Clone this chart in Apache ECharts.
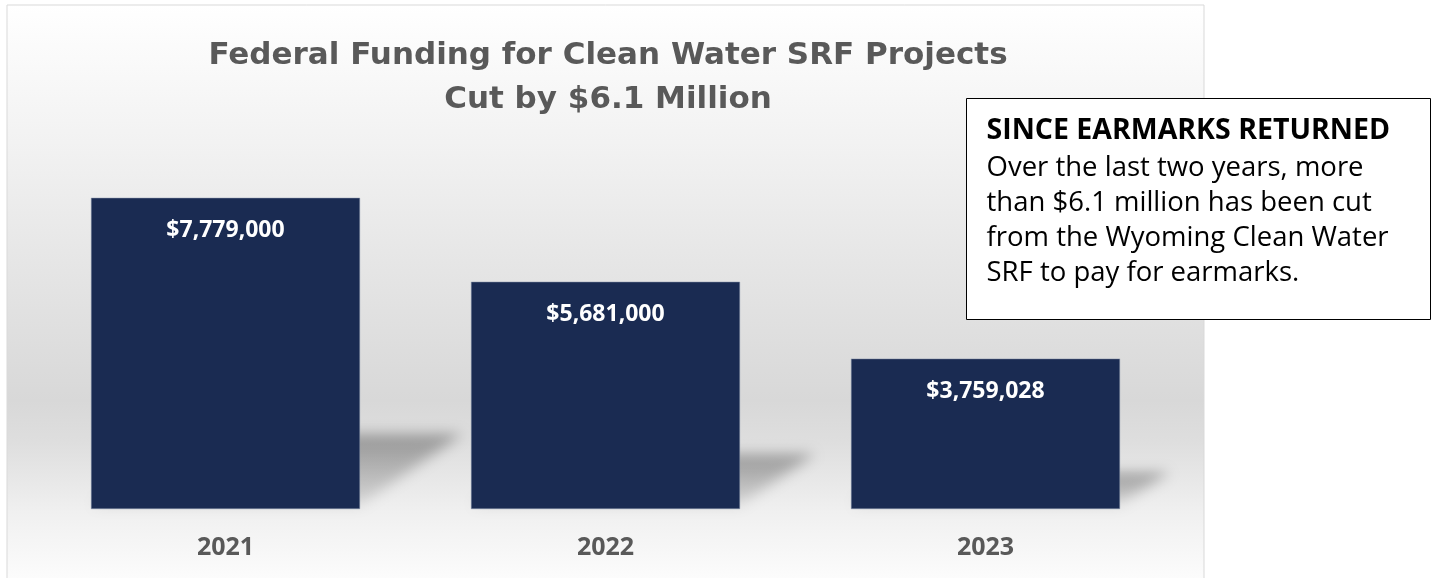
<!DOCTYPE html>
<html>
<head>
<meta charset="utf-8">
<script src="https://cdn.jsdelivr.net/npm/echarts@6/dist/echarts.min.js"></script>
<style>
  html, body { margin: 0; padding: 0; background: #fff; }
  #chart { width: 1434px; height: 578px; }
</style>
</head>
<body>
<div id="chart"></div>
<script>
// data
const years = ['2021', '2022', '2023']
const funding = [7779000, 5681000, 3759028]
const noteTitle = 'SINCE EARMARKS RETURNED'
const noteLines = [
  'Over the last two years, more',
  'than $6.1 million has been cut',
  'from the Wyoming Clean Water',
  'SRF to pay for earmarks.'
]

const navy = '#1a2b52'
const grey = '#595959'
const BAR_W = 269
const SHIFT = 3000 // draw shadow shape off screen, keep only its blur

function fmtMoney(v) {
  return '$' + v.toLocaleString('en-US')
}

// skewed soft shadow behind each bar, sized from the bar itself
function renderShadow(params, api) {
  let base = api.coord([api.value(0), 0])
  let top = api.coord([api.value(0), api.value(1)])
  let h = base[1] - top[1]
  let xl = base[0] - BAR_W / 2 - SHIFT
  let xr = base[0] + BAR_W / 2 - SHIFT
  let yb = base[1]
  let dx = h * 0.33, dy = h * 0.24
  return {
    type: 'polygon',
    shape: {
      points: [[xl, yb - 3], [xr, yb - 3], [xr + dx, yb - dy], [xl + dx, yb - dy]]
    },
    style: {
      fill: {
        type: 'linear', x: 0, y: 0, x2: 0, y2: 1,
        colorStops: [
          { offset: 0, color: 'rgba(0,0,0,1)' },
          { offset: 1, color: 'rgba(0,0,0,0.3)' }
        ]
      },
      shadowBlur: 14,
      shadowOffsetX: SHIFT,
      shadowColor: 'rgba(0,0,0,0.32)'
    }
  }
}

let myChart = echarts.init(document.getElementById('chart'))
let options = {
  animation: false,
  title: {
    text: 'Federal Funding for Clean Water SRF Projects\nCut by $6.1 Million',
    left: 603,
    top: 29,
    textAlign: 'center',
    textStyle: {
      fontFamily: 'DejaVu Sans',
      fontSize: 31,
      fontWeight: 'bold',
      color: grey,
      lineHeight: 44
    }
  },
  graphic: [
    {   // chart area with its wall/floor gradient
      type: 'rect',
      z: -10,
      silent: true,
      shape: { x: 7, y: 5, width: 1197, height: 590 },
      style: {
        stroke: '#d9d9d9',
        lineWidth: 1,
        fill: {
          type: 'linear', x: 0, y: 0, x2: 0, y2: 1,
          colorStops: [
            { offset: 0, color: '#ffffff' },
            { offset: 0.25, color: '#f1f1f1' },
            { offset: 0.67, color: '#d8d8d8' },
            { offset: 0.74, color: '#dedede' },
            { offset: 0.86, color: '#f0f0f0' },
            { offset: 1, color: '#ffffff' }
          ]
        }
      }
    },
    {   // note box
      type: 'group',
      left: 966,
      top: 98,
      z: 100,
      children: [
        {
          type: 'rect',
          shape: { x: 0, y: 0, width: 464, height: 221 },
          style: { fill: '#ffffff', stroke: '#000000', lineWidth: 1 }
        },
        {
          type: 'text',
          left: 20,
          top: 15,
          style: {
            text: noteTitle,
            fontFamily: 'Open Sans',
            fontSize: 28.5,
            fontWeight: 'bold',
            lineHeight: 35,
            fill: '#000'
          }
        },
        {
          type: 'text',
          left: 20,
          top: 52,
          style: {
            text: noteLines.join('\n'),
            fontFamily: 'Open Sans',
            fontSize: 27.5,
            lineHeight: 35,
            fill: '#000'
          }
        }
      ]
    }
  ],
  grid: {
    left: 35.5,
    right: 258.5,
    top: 109,
    bottom: 69
  },
  xAxis: {
    type: 'category',
    data: years,
    axisLine: { show: false },
    axisTick: { show: false },
    axisLabel: {
      margin: 26,
      fontFamily: 'Open Sans',
      fontSize: 25,
      fontWeight: 'bold',
      color: grey
    }
  },
  yAxis: {
    type: 'value',
    min: 0,
    max: 10000000,
    show: false,
    splitLine: { show: false }
  },
  series: [
    {
      type: 'custom',
      renderItem: renderShadow,
      data: years.map((y, i) => [i, funding[i]]),
      z: 1,
      silent: true
    },
    {
      type: 'bar',
      data: funding,
      barWidth: BAR_W,
      z: 2,
      itemStyle: {
        color: navy,
        borderColor: '#8590a8',
        borderWidth: 0.5
      },
      label: {
        show: true,
        position: 'insideTop',
        distance: 21,
        formatter: p => fmtMoney(p.value),
        fontFamily: 'Open Sans',
        fontSize: 23,
        fontWeight: 'bold',
        color: '#ffffff'
      }
    }
  ]
}
myChart.setOption(options)
</script>
</body>
</html>
